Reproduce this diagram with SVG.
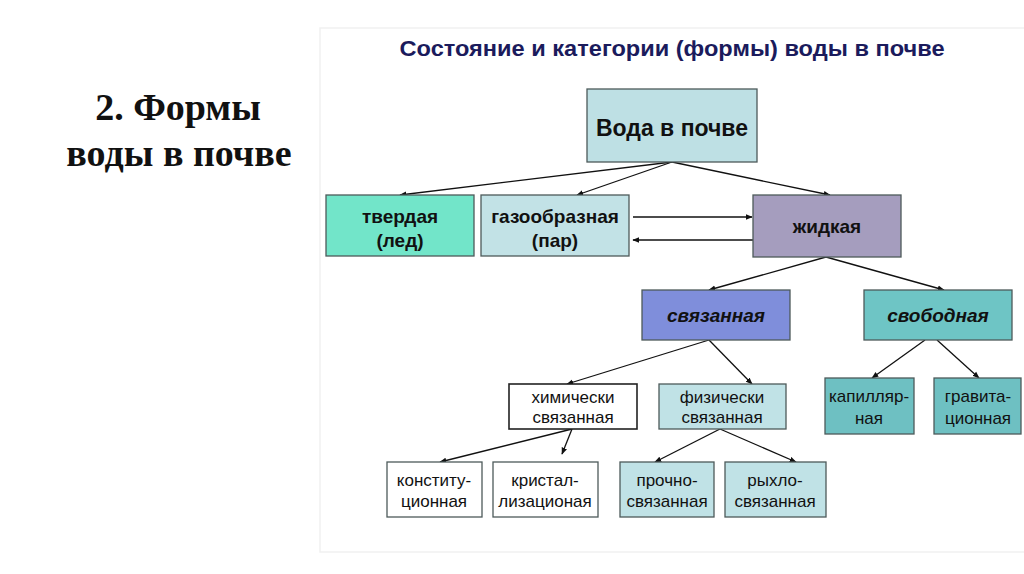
<svg xmlns="http://www.w3.org/2000/svg" width="1024" height="574" viewBox="0 0 1024 574">
<defs>
<style>
.box{stroke:#4d5a5a;stroke-width:1.3}
.lab{font-family:"Liberation Sans",Arial,sans-serif;fill:#111;text-anchor:middle}
.b{font-weight:bold;font-size:19px}
.n{font-size:17px}
.c{stroke:#111;stroke-width:1.3;fill:none;marker-end:url(#ah)}
</style>
<marker id="ah" viewBox="0 0 10 10" refX="9" refY="5" markerWidth="7" markerHeight="7" orient="auto" markerUnits="userSpaceOnUse">
<path d="M0,1 L10,5 L0,9 z" fill="#111"/>
</marker>
</defs>
<rect width="1024" height="574" fill="#ffffff"/>
<rect x="320" y="28" width="710" height="524" fill="none" stroke="#f1f1f1" stroke-width="1.5"/>
<g id="side-title" font-family="'Liberation Serif','Times New Roman',serif" font-weight="bold" font-size="38" fill="#111" text-anchor="middle">
<text x="178" y="120">2. Формы</text>
<text x="179" y="166">воды в почве</text>
</g>
<text x="672" y="56" font-family="'Liberation Sans',Arial,sans-serif" font-weight="bold" font-size="22" fill="#1b1b5c" text-anchor="middle" textLength="545" lengthAdjust="spacingAndGlyphs">Состояние и категории (формы) воды в почве</text>

<g id="connectors">
<line class="c" x1="672" y1="162" x2="400" y2="195"/>
<line class="c" x1="672" y1="162" x2="577" y2="195"/>
<line class="c" x1="672" y1="162" x2="830" y2="195"/>
<line class="c" x1="633" y1="217" x2="752" y2="217"/>
<line class="c" x1="753" y1="240" x2="633" y2="240"/>
<line class="c" x1="826" y1="257" x2="709" y2="290"/>
<line class="c" x1="826" y1="257" x2="944" y2="290"/>
<line class="c" x1="709" y1="340" x2="567" y2="384"/>
<line class="c" x1="709" y1="340" x2="752" y2="384"/>
<line class="c" x1="925" y1="340" x2="872" y2="378"/>
<line class="c" x1="937" y1="340" x2="979" y2="378"/>
<line class="c" x1="572" y1="429" x2="440" y2="462"/>
<line class="c" x1="572" y1="429" x2="562" y2="454"/>
<line class="c" x1="720" y1="429" x2="655" y2="462"/>
<line class="c" x1="720" y1="429" x2="796" y2="462"/>
</g>

<g id="n-voda"><rect class="box" x="587" y="89" width="170" height="73" fill="#bee0e4"/><text class="lab" x="672" y="136" font-size="23" font-weight="bold">Вода в почве</text></g>
<g id="n-tverdaya"><rect class="box" x="326" y="195" width="148" height="61" fill="#72e5c9"/><text class="lab b" x="400" y="223">твердая</text><text class="lab b" x="400" y="247">(лед)</text></g>
<g id="n-gaz"><rect class="box" x="481" y="195" width="148" height="61" fill="#c2e2e6"/><text class="lab b" x="555" y="223">газообразная</text><text class="lab b" x="555" y="247">(пар)</text></g>
<g id="n-zhidkaya"><rect class="box" x="753" y="195" width="148" height="62" fill="#a59dbe"/><text class="lab b" x="827" y="233">жидкая</text></g>
<g id="n-svyaz"><rect class="box" x="642" y="290" width="148" height="50" fill="#7f8edb"/><text class="lab b" x="716" y="322" font-style="italic">связанная</text></g>
<g id="n-svob"><rect class="box" x="864" y="290" width="148" height="50" fill="#6ec5c5"/><text class="lab b" x="938" y="322" font-style="italic">свободная</text></g>
<g id="n-him"><rect x="509" y="384" width="128" height="45" fill="#ffffff" stroke="#222" stroke-width="1.6"/><text class="lab n" x="573" y="403">химически</text><text class="lab n" x="573" y="423">связанная</text></g>
<g id="n-fiz"><rect class="box" x="659" y="384" width="127" height="45" fill="#c0e2e6"/><text class="lab n" x="722" y="403">физически</text><text class="lab n" x="722" y="423">связанная</text></g>
<g id="n-kap"><rect class="box" x="825" y="378" width="89" height="56" fill="#6ec0c2"/><text class="lab n" x="869" y="402">капилляр-</text><text class="lab n" x="869" y="424">ная</text></g>
<g id="n-grav"><rect class="box" x="934" y="378" width="87" height="56" fill="#6ec0c2"/><text class="lab n" x="978" y="402">гравита-</text><text class="lab n" x="978" y="424">ционная</text></g>
<g id="n-konst"><rect class="box" x="387" y="462" width="95" height="55" fill="#ffffff"/><text class="lab n" x="434" y="486">конститу-</text><text class="lab n" x="434" y="507">ционная</text></g>
<g id="n-krist"><rect class="box" x="493" y="462" width="105" height="55" fill="#ffffff"/><text class="lab n" x="545" y="486">кристал-</text><text class="lab n" x="545" y="507">лизационая</text></g>
<g id="n-prochno"><rect class="box" x="620" y="462" width="94" height="55" fill="#c0e2e6"/><text class="lab n" x="667" y="486">прочно-</text><text class="lab n" x="667" y="507">связанная</text></g>
<g id="n-ryhlo"><rect class="box" x="725" y="462" width="101" height="55" fill="#c0e2e6"/><text class="lab n" x="775" y="486">рыхло-</text><text class="lab n" x="775" y="507">связанная</text></g>
</svg>
